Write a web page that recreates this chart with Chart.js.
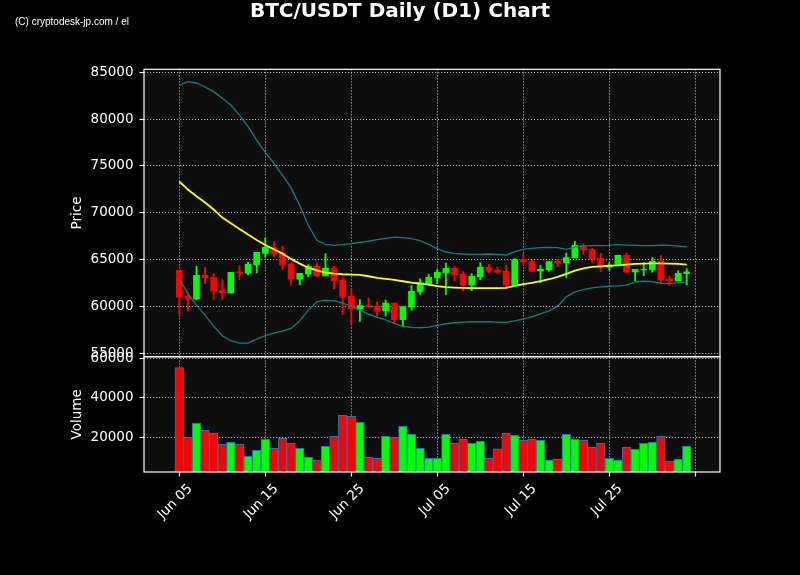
<!DOCTYPE html>
<html><head><meta charset="utf-8">
<script src="https://cdn.jsdelivr.net/npm/chart.js@4.4.1/dist/chart.umd.min.js"></script>
<style>
html,body{margin:0;padding:0;background:#000;}
#wrap{position:relative;width:800px;height:575px;background:#000;overflow:hidden;}
#title{position:absolute;left:0;top:0;width:800px;text-align:center;font:bold 20px/20px "DejaVu Sans";color:#fff;}
#wm{position:absolute;left:15px;top:16.5px;font:10px/10px "Liberation Sans";color:#fff;white-space:nowrap;}
canvas{position:absolute;left:0;top:0;}
</style></head><body>
<div id="wrap"><canvas id="c" width="800" height="575"></canvas>
<div id="title">BTC/USDT Daily (D1) Chart</div><div id="wm">(C) cryptodesk-jp.com / el</div></div>
<script>
const dates = ['Jun 05','Jun 06','Jun 07','Jun 08','Jun 09','Jun 10','Jun 11','Jun 12','Jun 13','Jun 14',
 'Jun 15','Jun 16','Jun 17','Jun 18','Jun 19','Jun 20','Jun 21','Jun 22','Jun 23','Jun 24',
 'Jun 25','Jun 26','Jun 27','Jun 28','Jun 29','Jun 30','Jul 01','Jul 02','Jul 03','Jul 04',
 'Jul 05','Jul 06','Jul 07','Jul 08','Jul 09','Jul 10','Jul 11','Jul 12','Jul 13','Jul 14',
 'Jul 15','Jul 16','Jul 17','Jul 18','Jul 19','Jul 20','Jul 21','Jul 22','Jul 23','Jul 24',
 'Jul 25','Jul 26','Jul 27','Jul 28','Jul 29','Jul 30','Jul 31','Aug 01','Aug 02','Aug 03'];
const open  = [63865,61099,60780,63333,63121,61738,61454,63688,63546,64433,
 65674,66277,65709,64504,62908,63475,64291,63262,64078,62801,
 61099,59752,60107,60000,59539,60355,58582,59965,61560,62447,
 63050,63582,64078,63440,62305,63156,64184,63865,63759,62270,
 65035,64787,63794,63901,64823,64645,65177,66525,66099,65142,
 64184,64433,65461,63688,63901,63901,64823,62943,62730,63511];
const high  = [63900,61490,64291,64149,63511,62872,63652,64362,64716,65780,
 67269,66915,66418,64681,63546,64468,64574,65638,64291,63156,
 61880,60745,60922,60496,60674,60355,60000,62234,62943,63440,
 63936,64645,64291,63723,63511,64681,64504,64220,64397,65142,
 65638,64929,64397,64787,65000,65709,66950,66702,66241,65709,
 64681,65496,65709,63972,64681,65248,65426,63227,63794,64043];
const low   = [59149,59504,60750,62447,60745,60745,61454,62872,63404,63582,
 65248,65355,63936,62270,62340,63156,63156,63262,61915,59149,
 58050,58404,59894,58972,58972,58263,57908,59575,61277,62270,
 62447,61277,62695,61631,61702,62872,63582,63582,62021,62270,
 64433,63688,62553,63759,64255,63050,65177,65532,64716,63723,
 63865,64433,63582,62766,63298,63653,62482,62270,62730,62340];
const close = [61028,60816,63333,63050,61631,61454,63652,63582,64504,65780,
 66312,65603,64433,62908,63546,64291,63262,64078,62731,61028,
 59752,60107,59965,59539,60355,58582,60000,61631,62553,63121,
 63653,64078,63369,62305,63227,64184,63794,63653,62270,65000,
 64752,63794,63972,64787,64645,65213,66525,66028,65071,64184,
 64397,65461,63688,63972,63972,64823,62837,62766,63546,63688];
const volume = [55448,20000,27090,23545,22026,16455,17468,16455,10378,13417,
 18987,14430,19494,16962,14430,9872,8353,15442,20506,31141,
 30634,27596,9872,9366,20506,20000,25570,21519,14430,9366,
 9366,21519,16962,18987,16962,17974,9366,14092,22026,21013,
 18481,18987,18481,8353,8859,21519,18987,18481,14936,16962,
 9366,8353,14936,13923,16962,17468,20506,7846,8859,15442];
const sma = [73343,72487,71774,71097,70348,69493,68886,68280,67674,67104,
 66569,66105,65642,65080,64574,64149,63865,63617,63511,63440,
 63404,63369,63227,63050,62943,62837,62695,62553,62447,62340,
 62163,62057,62021,61986,61950,61950,61950,61950,61986,62199,
 62376,62518,62695,62908,63156,63475,63830,64078,64220,64291,
 64362,64397,64468,64539,64574,64610,64610,64574,64539,64468];
const upperBand = [83610,84002,83859,83431,82932,82219,81506,80437,79189,77763,
 76444,75268,74020,72665,70811,68673,67068,66620,66530,66600,
 66700,66830,66970,67135,67260,67400,67345,67240,67030,66620,
 66170,65816,65674,65603,65567,65567,65603,65567,65496,65850,
 66099,66206,66277,66312,66277,66099,66347,66454,66489,66489,
 66525,66596,66560,66525,66489,66489,66560,66525,66454,66383];
const lowerBand = [62979,61383,60142,59078,57908,56880,56348,56099,56099,56525,
 56880,57163,57376,57660,58440,59610,60496,60680,60603,60390,
 60000,59610,59184,58830,58582,58192,57872,57766,57731,57801,
 57979,58156,58263,58333,58369,58369,58369,58333,58298,58475,
 58653,58901,59220,59539,60035,61028,61560,61809,61986,62092,
 62163,62199,62270,62624,62695,62659,62482,62447,62518,62553];
const tickDays = [0,10,20,30,40,50,60];
const tickLabels = ['Jun 05','Jun 15','Jun 25','Jul 05','Jul 15','Jul 25',''];
const priceTicks = [55000,60000,65000,70000,75000,80000,85000];
const volumeTicks = [20000,40000,60000];

const UP = '#00ff00', DOWN = '#ff0000';
const candleColors = open.map((o,i) => close[i] >= o ? UP : DOWN);
const FONT = {family:'DejaVu Sans', size:13.5};
const gridOpts = {color:'rgba(200,200,200,0.85)', lineWidth:1, offset:false, tickColor:'#ffffff', tickLength:4.5, tickWidth:1.2, tickBorderDash:[], drawTicks:true};
const borderOpts = {display:false, dash:[1.2,1.8]};

const panelPlugin = {
  id:'panels',
  beforeDraw(chart){
    const {ctx, chartArea:a} = chart;
    ctx.save(); ctx.fillStyle = '#0d0d0d';
    ctx.fillRect(a.left, a.top, a.right - a.left, a.bottom - a.top); ctx.restore();
  },
  afterDraw(chart){
    const {ctx, chartArea:a, scales} = chart;
    ctx.save(); ctx.strokeStyle = '#ffffff'; ctx.lineWidth = 1.2;
    for (const id of ['yP','yV']) {
      const s = scales[id];
      ctx.strokeRect(a.left, s.top, a.right - a.left, s.bottom - s.top);
    }
    ctx.restore();
  }
};

new Chart(document.getElementById('c'), {
  type:'bar',
  data:{datasets:[
    {type:'line', label:'upper', data: upperBand.map((v,i)=>({x:i,y:v})), yAxisID:'yP', borderColor:'#0a8080', borderWidth:1.3, pointRadius:0, tension:0, order:0},
    {type:'line', label:'lower', data: lowerBand.map((v,i)=>({x:i,y:v})), yAxisID:'yP', borderColor:'#0a8080', borderWidth:1.3, pointRadius:0, tension:0, order:0},
    {type:'line', label:'sma', data: sma.map((v,i)=>({x:i,y:v})), yAxisID:'yP', borderColor:'#ffff00', borderWidth:1.8, pointRadius:0, tension:0, order:0},
    {type:'bar', label:'body', data: open.map((o,i)=>({x:i,y:[o, close[i]]})), yAxisID:'yP', backgroundColor:candleColors, borderWidth:0, barThickness:6, grouped:false, order:1},
    {type:'bar', label:'wick', data: low.map((l,i)=>({x:i,y:[l, high[i]]})), yAxisID:'yP', backgroundColor:candleColors, borderWidth:0, barThickness:1.2, grouped:false, order:2},
    {type:'bar', label:'volume', data: volume.map((v,i)=>({x:i,y:v})), yAxisID:'yV', backgroundColor:candleColors, borderColor:'#1f77b4', borderWidth:1, barPercentage:1, categoryPercentage:1, grouped:false, order:3}
  ]},
  options:{
    responsive:false, animation:false, events:[],
    layout:{padding:{top:69.3, right:80, left:0, bottom:0}, autoPadding:false},
    plugins:{legend:{display:false}, tooltip:{enabled:false}},
    scales:{
      x:{type:'linear', min:-4.1, max:62.87, offset:false, grid:gridOpts, border:borderOpts,
        ticks:{color:'#fff', font:FONT, maxRotation:45, minRotation:45, padding:4.5, labelOffset:11, autoSkip:false,
          callback:(v,i)=> tickLabels[i] ?? ''},
        afterBuildTicks: s => { s.ticks = tickDays.map(v=>({value:v})); },
        afterFit: s => { s.height = 103; }},
      yP:{type:'linear', position:'left', stack:'panes', stackWeight:287.4, weight:2, min:54640, max:85320,
        grid:gridOpts, border:borderOpts,
        ticks:{color:'#fff', font:FONT, padding:6, callback:v=>String(v)},
        afterBuildTicks: s => { s.ticks = priceTicks.map(v=>({value:v})); },
        afterFit: s => { s.width = 144; },
        title:{display:true, text:'Price', color:'#fff', font:FONT, padding:{top:69, bottom:0}}},
      yV:{type:'linear', position:'left', stack:'panes', stackWeight:115.3, weight:1, min:2354, max:60993,
        grid:gridOpts, border:borderOpts,
        ticks:{color:'#fff', font:FONT, padding:6, callback:v=>String(v)},
        afterBuildTicks: s => { s.ticks = volumeTicks.map(v=>({value:v})); },
        afterFit: s => { s.width = 144; },
        title:{display:true, text:'Volume', color:'#fff', font:FONT, padding:{top:69, bottom:0}}}
    }
  },
  plugins:[panelPlugin]
});
</script></body></html>
